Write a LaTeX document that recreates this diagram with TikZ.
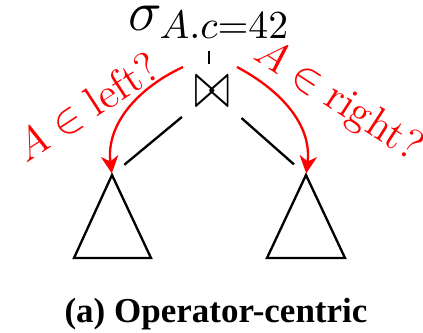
\documentclass[tikz,border=0pt]{standalone}
\usepackage{fix-cm}
\usepackage{fontspec}
\newfontfamily\capfont{Liberation Serif}
\usepackage{amsmath}
\usetikzlibrary{arrows.meta, positioning}
\definecolor{askRed}{HTML}{FF0000}

\begin{document}
\begin{tikzpicture}[
    x=0.3pt, y=0.3pt,
    plan/.style={line width=0.7pt},
    subtree/.style={line width=0.7pt, line join=miter},
    ask/.style={draw=askRed, line width=0.7pt,
                -{Stealth[length=5.2pt, width=5.2pt, inset=1.6pt]}, shorten >=0.5pt},
    asklabel/.style={text=askRed, font=\fontsize{12.8}{14}\selectfont, inner sep=0pt},
  ]
    \useasboundingbox (0,0) rectangle (423,333);

    \node[inner sep=0pt, anchor=base, font=\fontsize{17}{20}\selectfont] (sel) at (209,303) {$\sigma_{A.c=42}$};
    \node[inner sep=0pt, font=\fontsize{20}{22}\selectfont] (join) at (212,241) {\scalebox{0.66}[1]{$\bowtie$}};

    % subtrees
    \coordinate (ltop) at (112,158);
    \coordinate (rtop) at (306,158);
    \draw[subtree] (ltop) -- ++(-38,-83) -- ++(77,0) -- cycle;
    \draw[subtree] (rtop) -- ++(-39,-83) -- ++(78,0) -- cycle;

    \draw[plan, shorten <=3.6pt, shorten >=3.6pt] (sel.south) -- (sel.south |- join.north);
    \draw[plan, shorten <=4.5pt, shorten >=4.8pt] (join) -- (ltop);
    \draw[plan, shorten <=4.5pt, shorten >=4.8pt] (join) -- (rtop);

    % pushdown questions
    \coordinate (lq) at (183,266);
    \coordinate (rq) at (237,266);
    \draw[ask] (lq) to[out=205, in=97] (ltop);
    \draw[ask] (rq) to[out=-28, in=83] (rtop);
    \node[asklabel, rotate=33] (lask) at (87,226) {$A \in \text{left?}$};
    \node[asklabel, rotate=-33] (rask) at (338,232) {$A \in \text{right?}$};

    \node[anchor=base, inner sep=0pt, font=\capfont\bfseries\fontsize{10.5}{12}\selectfont] (cap) at (216,10) {(a) Operator-centric};
  \end{tikzpicture}
\end{document}
